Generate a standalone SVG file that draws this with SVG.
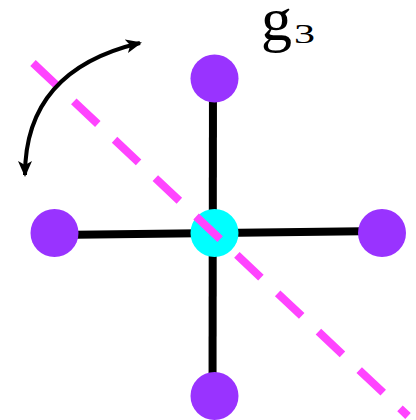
<svg xmlns="http://www.w3.org/2000/svg" width="416" height="420" viewBox="0 0 416 420">
<style>
.axis{stroke:#000;stroke-width:8;fill:none}
.leaf{fill:#9933FF}
.hub{fill:#00FFFF}
.mirror{stroke:#FF44FF;stroke-width:8;stroke-dasharray:33 23;fill:none}
.rot{stroke:#000;stroke-width:4;fill:none}
.lbl{font-family:"Liberation Serif","Times New Roman",serif;fill:#000}
</style>
<defs>
<marker id="ah" viewBox="0 0 16 14" refX="14" refY="7" markerWidth="16" markerHeight="14" markerUnits="userSpaceOnUse" orient="auto-start-reverse">
<path d="M0 0 L16 7 L0 14 L4 7 Z" fill="#000"/>
</marker>
</defs>
<g id="connectors">
<line class="axis" x1="55" y1="235" x2="382" y2="231"/>
<line class="axis" x1="213" y1="78" x2="212.5" y2="396"/>
</g>
<g id="node-top"><circle class="leaf" cx="214.5" cy="78.5" r="24"/></g>
<g id="node-left"><circle class="leaf" cx="54.5" cy="233" r="24"/></g>
<g id="node-right"><circle class="leaf" cx="382" cy="233" r="24"/></g>
<g id="node-bottom"><circle class="leaf" cx="214.5" cy="396" r="24"/></g>
<g id="node-center"><circle class="hub" cx="214.5" cy="233" r="24"/></g>
<g id="mirror-line"><line class="mirror" x1="33" y1="63" x2="408" y2="416"/></g>
<g id="rotation-arrow"><path class="rot" d="M25 175 Q25 70 140 43" marker-start="url(#ah)" marker-end="url(#ah)"/></g>
<g id="label"><text class="lbl" x="261" y="40" font-size="62">g</text><text class="lbl" x="294" y="43" font-size="27" textLength="21" lengthAdjust="spacingAndGlyphs">3</text></g>
</svg>
